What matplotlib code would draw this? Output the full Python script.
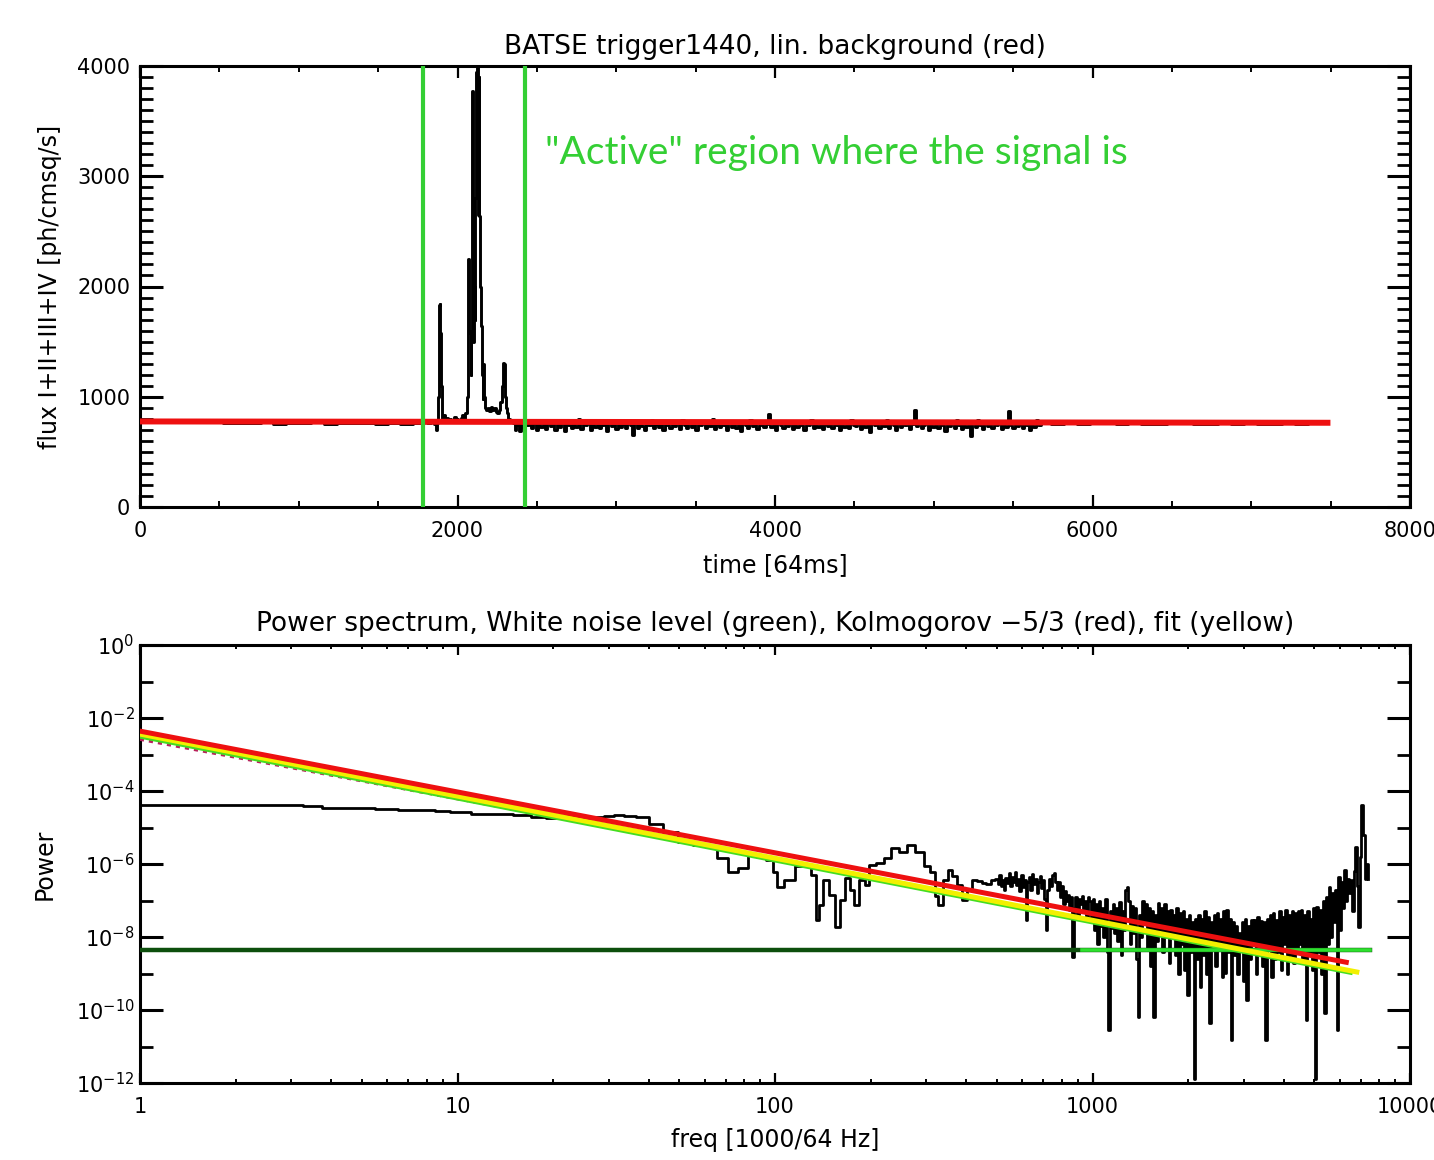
import numpy as np
import matplotlib
matplotlib.use('Agg')
import matplotlib.pyplot as plt
from matplotlib.ticker import MultipleLocator, FixedLocator, FixedFormatter, NullFormatter, LogLocator

# ---------------- top panel data (time in 64 ms bins, flux ph/cm^2/s) ----------------
quiet_flux = [775, 772, 774, 770, 773, 768, 771, 760, 766, 758, 770, 757,
              765, 760, 768, 756, 762, 758, 764, 757, 760, 755, 762]
active_time = [1780, 1800, 1820, 1840, 1860, 1870, 1876, 1880, 1885, 1890, 1895, 1900,
               1905, 1915, 1925, 1935, 1945, 1955, 1965, 1975, 1985, 1995, 2005, 2015,
               2025, 2035, 2045, 2055, 2062, 2066, 2070, 2075, 2080, 2085, 2090, 2095,
               2100, 2105, 2110, 2115, 2120, 2125, 2130, 2135, 2140, 2145, 2150, 2155,
               2160, 2165, 2170, 2175, 2185, 2195, 2205, 2215, 2225, 2235, 2245, 2255,
               2265, 2275, 2285, 2290, 2295, 2300, 2305, 2315, 2325, 2335, 2345, 2355,
               2365, 2375, 2385, 2395, 2405, 2415, 2425]
active_flux = [765, 770, 760, 775, 750, 700, 760, 1000, 1830, 1840, 1580, 1100,
               800, 830, 790, 810, 780, 800, 770, 790, 820, 800, 780, 790,
               810, 830, 800, 850, 1000, 1430, 2250, 1600, 1580, 1200, 1600, 3770,
               1500, 2000, 1700, 2800, 3950, 4000, 2650, 3900, 2640, 2000, 1640, 1200,
               980, 1300, 1000, 900, 880, 900, 870, 910, 880, 900, 860, 850,
               880, 950, 1100, 1310, 1300, 1000, 900, 850, 800, 790, 780, 760,
               700, 780, 740, 690, 760, 730, 770]
noisy_flux = [740, 770, 720, 760, 700, 780, 730, 750, 710, 770,
              735, 790, 700, 755, 725, 765, 690, 780, 745, 715,
              760, 730, 800, 710, 750, 740, 770, 700, 760, 725,
              780, 715, 745, 760, 690, 775, 735, 760, 705, 790,
              730, 750, 720, 770, 740, 650, 760, 720, 780, 735,
              700, 765, 740, 785, 715, 750, 730, 770, 695, 760,
              745, 720, 775, 735, 760, 705, 790, 740, 720, 765,
              730, 780, 700, 755, 740, 770, 715, 760, 735, 800,
              710, 750, 725, 765, 745, 700, 780, 730, 760, 720,
              755, 690, 770, 740, 715, 790, 735, 760, 705, 745,
              770, 725, 750, 840, 730, 760, 700, 775, 740, 720,
              765, 735, 780, 710, 750, 725, 770, 745, 695, 760,
              740, 785, 715, 755, 730, 770, 705, 750, 735, 780,
              720, 760, 740, 700, 775, 730, 755, 715, 790, 745,
              735, 770, 710, 760, 725, 750, 680, 765, 740, 775,
              715, 755, 735, 790, 720, 760, 745, 700, 770, 730,
              760, 740, 775, 710, 750, 880, 735, 765, 720, 745,
              780, 700, 755, 730, 770, 715, 760, 740, 690, 775,
              735, 760, 720, 785, 745, 705, 770, 730, 755, 640,
              760, 725, 790, 740, 710, 765, 735, 775, 720, 750,
              745, 780, 705, 760, 730, 870, 740, 715, 770, 735,
              755, 720, 775, 745, 700, 760, 730, 785, 740, 760]
tail_flux = [762, 755, 760, 752, 758, 764, 754, 760, 756, 750, 758, 762,
             752, 757, 760, 754, 759, 751, 756, 760, 753, 758, 762]
bkg_time = [0, 7480]
bkg_flux = [776, 764]
active_bounds = [1783, 2425]

quiet_time = np.linspace(0, 1760, len(quiet_flux))
noisy_time = np.linspace(2440, 5680, len(noisy_flux))
tail_time = np.linspace(5700, 7480, len(tail_flux))
lc_time = np.concatenate([quiet_time, active_time, noisy_time, tail_time])
lc_flux = np.concatenate([quiet_flux, active_flux, noisy_flux, tail_flux])

# ---------------- bottom panel data (power spectrum, log10 of power) ----------------
lo_freq = [1, 2, 3, 3.5, 4, 5, 6, 7, 8, 9, 10, 12, 14, 16, 18, 20, 21, 23, 25, 28,
           30, 32, 35, 38, 42, 47, 52, 58, 63, 68, 74, 79, 85, 90, 97, 100, 103, 111,
           120, 127, 133, 136, 140, 144, 151, 157, 163, 169, 175, 180, 188, 195, 201,
           214, 226, 238, 253, 268, 286, 302, 313, 323, 331, 345, 355, 368, 381, 396,
           410, 425, 440, 457, 470, 485]
lo_logpow = [-4.38, -4.38, -4.38, -4.40, -4.47, -4.47, -4.48, -4.52, -4.53, -4.56,
             -4.58, -4.63, -4.63, -4.66, -4.71, -4.74, -4.69, -4.68, -4.74, -4.71,
             -4.68, -4.66, -4.68, -4.71, -4.90, -5.12, -5.40, -5.48, -5.53, -5.84,
             -6.22, -6.11, -5.75, -5.80, -5.89, -6.22, -6.63, -6.44, -6.05, -6.05,
             -6.30, -7.53, -7.12, -6.44, -6.85, -7.73, -6.99, -6.38, -6.71, -7.12,
             -6.44, -6.58, -6.03, -5.97, -5.84, -5.56, -5.67, -5.48, -5.67, -6.05,
             -6.22, -6.88, -7.12, -6.44, -6.16, -6.33, -6.58, -6.99, -6.71, -6.44,
             -6.47, -6.52, -6.55, -6.44]
# high-frequency part, evenly spaced in log frequency from 500 to 7400
hi_logpow = [-6.40, -6.55, -6.30, -6.60, -6.45, -6.70, -6.38, -6.52, -6.25, -6.60,
             -6.35, -6.48, -6.22, -6.58, -6.40, -6.75, -6.30, -6.62, -6.45, -7.53,
             -6.50, -6.35, -6.70, -6.28, -6.55, -6.42, -6.80, -6.50, -6.33, -6.65,
             -6.45, -6.95, -7.81, -6.70, -6.40, -6.60, -6.30, -6.25, -6.50, -6.72,
             -6.48, -6.90, -6.60, -7.10, -6.75, -7.00, -6.85, -7.25, -6.90, -8.55,
             -7.20, -6.90, -7.40, -6.95, -7.10, -6.88, -7.30, -7.00, -7.50, -6.90,
             -7.00, -7.60, -6.95, -7.80, -7.10, -8.20, -7.00, -7.70, -7.20, -8.00,
             -6.95, -8.40, -10.55, -7.30, -7.75, -7.10, -7.90, -7.20, -8.10, -7.05,
             -8.50, -7.30, -7.80, -6.70, -6.63, -7.00, -8.20, -7.15, -7.90, -7.20,
             -8.60, -10.19, -7.40, -8.00, -7.00, -7.60, -7.10, -8.30, -7.20, -8.80,
             -7.30, -10.19, -7.40, -8.10, -7.07, -7.80, -7.20, -8.40, -7.10, -8.00,
             -7.30, -8.70, -7.25, -7.90, -7.40, -8.50, -7.20, -9.00, -7.35, -8.20,
             -7.30, -8.90, -7.50, -9.60, -7.40, -8.40, -7.60, -11.88, -7.50, -8.60,
             -7.40, -9.37, -7.50, -8.50, -7.30, -9.00, -7.45, -10.36, -7.60, -8.30,
             -7.40, -8.80, -7.34, -8.20, -7.50, -9.10, -7.30, -8.99, -7.26, -8.40,
             -7.50, -10.82, -7.60, -8.50, -7.70, -9.00, -7.89, -8.30, -7.60, -9.20,
             -7.50, -9.73, -7.70, -8.60, -7.53, -8.20, -7.53, -9.00, -7.45, -8.40,
             -7.55, -8.80, -7.60, -10.82, -7.50, -8.30, -7.40, -9.10, -7.35, -8.60,
             -7.53, -8.40, -7.30, -8.90, -7.45, -8.20, -7.26, -9.00, -7.40, -8.50,
             -7.30, -8.70, -7.35, -8.30, -7.30,
             -8.20, -7.26, -8.60, -7.40, -10.27, -7.30, -8.50, -7.50, -8.90, -7.20,
             -11.90, -7.18, -8.40, -7.25, -9.00, -7.00, -10.08, -6.90, -8.20, -6.63,
             -8.00, -6.80, -7.60, -6.70, -10.55, -6.36, -7.80, -6.50, -7.20, -6.16,
             -7.00, -6.40, -6.80, -6.44, -7.30, -6.20, -5.53, -6.60, -7.73, -5.80,
             -4.38, -5.20, -6.40, -6.00, -6.40]
hi_freq = np.geomspace(500, 7400, len(hi_logpow))
spec_freq = np.concatenate([lo_freq, hi_freq])
spec_logpow = np.concatenate([lo_logpow, hi_logpow])

noise_freq = [1, 7480]
noise_pow = [4.4e-9, 4.4e-9]
noise_bright_freq = [930, 7480]
kolmo_freq = [1, 6300]
kolmo_pow = [4.37e-3, 2.03e-9]
fit_freq = [1, 6800]
fit_pow = [3.63e-3, 1.10e-9]
fitedge_freq = [1, 6500]
fitedge_pow = [3.1e-3, 1.05e-9]
lowfit_freq = [1, 31]
lowfit_pow = [2.69e-3, 1.0e-5]

# ---------------- figure ----------------
W, H = 1434, 1160
fig = plt.figure(figsize=(W / 100, H / 100), dpi=100)
plt.rcParams['font.family'] = ['DejaVu Sans']

GREEN = '#34cf34'
RED = '#ee1010'
FS_T = 19
FS_L = 17
FS_TK = 15

def frame(ax):
    for s in ax.spines.values():
        s.set_linewidth(2.2)

# top panel
ax1 = fig.add_axes([140 / W, (H - 507) / H, 1270 / W, (507 - 66) / H])
ax1.plot(lc_time, lc_flux, color='black', lw=2.1, drawstyle='steps-mid', zorder=2)
ax1.plot(bkg_time, bkg_flux, color=RED, lw=4.3, zorder=3)
for b in active_bounds:
    ax1.axvline(b, color=GREEN, lw=3, zorder=4)
ax1.text(2551, 3210, '"Active" region where the signal is', color=GREEN,
         fontsize=28, family=['Lato', 'DejaVu Sans'], ha='left', va='center')
ax1.set_xlim(0, 8000)
ax1.set_ylim(0, 4000)
ax1.xaxis.set_major_locator(MultipleLocator(2000))
ax1.xaxis.set_minor_locator(MultipleLocator(500))
ax1.yaxis.set_major_locator(MultipleLocator(1000))
ax1.yaxis.set_minor_locator(MultipleLocator(100))
ax1.tick_params(axis='both', which='both', direction='in', top=True, right=True,
                labelsize=FS_TK)
ax1.tick_params(axis='x', which='major', length=8.6, width=1.6, pad=10)
ax1.tick_params(axis='x', which='minor', length=4.3, width=1.4)
ax1.tick_params(axis='y', which='major', length=16.5, width=2.2, pad=7)
ax1.tick_params(axis='y', which='minor', length=9.4, width=2.0)
ax1.set_title('BATSE trigger1440, lin. background (red)', fontsize=FS_T, pad=9)
ax1.set_xlabel('time [64ms]', fontsize=FS_L, va='center')
ax1.xaxis.set_label_coords(0.5, (507 - 565) / 441)
ax1.set_ylabel('flux I+II+III+IV [ph/cmsq/s]', fontsize=FS_L, va='center')
ax1.yaxis.set_label_coords((50 - 140) / 1270, 0.5)
frame(ax1)

# bottom panel
ax2 = fig.add_axes([140 / W, (H - 1083) / H, 1270 / W, (1083 - 645) / H])
ax2.set_xscale('log')
ax2.set_yscale('log')
ax2.plot(spec_freq, 10.0 ** spec_logpow, color='black', lw=2.0,
         drawstyle='steps-mid', zorder=2)
ax2.plot(noise_freq, noise_pow, color='#0d4f0d', lw=3.2, zorder=3)
ax2.plot(noise_bright_freq, noise_pow, color='#2ee02e', lw=2.6, zorder=3)
ax2.plot(lowfit_freq, lowfit_pow, color='#b8205c', lw=3, ls=(0, (1, 1.2)), zorder=4)
ax2.plot(fitedge_freq, fitedge_pow, color='#44dd22', lw=3, zorder=4)
ax2.plot(fit_freq, fit_pow, color='#f2f000', lw=3.6, zorder=5)
ax2.plot(kolmo_freq, kolmo_pow, color=RED, lw=3.6, zorder=6)
ax2.set_xlim(1, 10000)
ax2.set_ylim(1e-12, 1)
ax2.xaxis.set_major_locator(FixedLocator([1, 10, 100, 1000, 10000]))
ax2.xaxis.set_major_formatter(FixedFormatter(['1', '10', '100', '1000', '10000']))
ax2.xaxis.set_minor_locator(LogLocator(base=10, subs=np.arange(2, 10), numticks=20))
ax2.xaxis.set_minor_formatter(NullFormatter())
ymaj = [1e0, 1e-2, 1e-4, 1e-6, 1e-8, 1e-10, 1e-12]
ax2.yaxis.set_major_locator(FixedLocator(ymaj))
ax2.yaxis.set_major_formatter(FixedFormatter(
    [r'$10^{0}$', r'$10^{-2}$', r'$10^{-4}$', r'$10^{-6}$', r'$10^{-8}$',
     r'$10^{-10}$', r'$10^{-12}$']))
ax2.yaxis.set_minor_locator(FixedLocator([1e-1, 1e-3, 1e-5, 1e-7, 1e-9, 1e-11]))
ax2.yaxis.set_minor_formatter(NullFormatter())
ax2.tick_params(axis='both', which='both', direction='in', top=True, right=True,
                labelsize=FS_TK)
ax2.tick_params(axis='x', which='major', length=7.5, width=1.6, pad=10)
ax2.tick_params(axis='x', which='minor', length=3, width=1.4)
ax2.tick_params(axis='y', which='major', length=16.5, width=2.2, pad=4)
ax2.tick_params(axis='y', which='minor', length=9.4, width=2.0)
ax2.set_title('Power spectrum, White noise level (green), Kolmogorov \u22125/3 (red), fit (yellow)',
              fontsize=FS_T, pad=10)
ax2.set_xlabel('freq [1000/64 Hz]', fontsize=FS_L, va='center')
ax2.xaxis.set_label_coords(0.5, (1083 - 1140) / 438)
ax2.set_ylabel('Power', fontsize=FS_L, va='center')
ax2.yaxis.set_label_coords((45 - 140) / 1270, 0.5)
frame(ax2)

fig.savefig('out.png', dpi=100)
